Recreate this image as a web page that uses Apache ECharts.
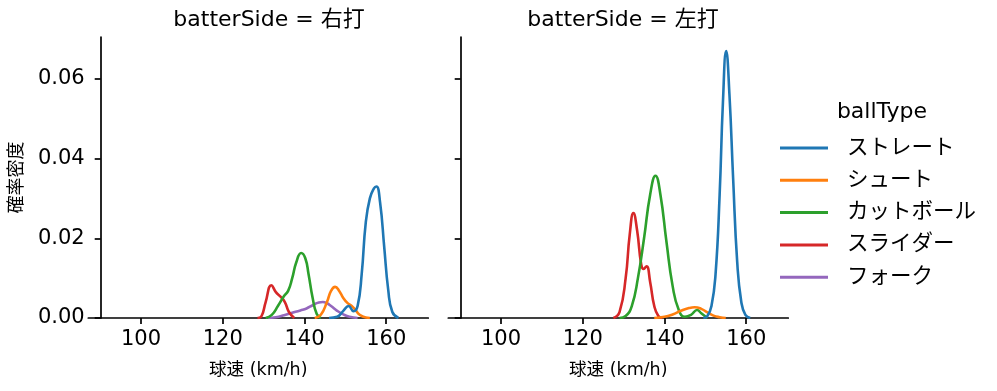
<!DOCTYPE html>
<html><head><meta charset="utf-8">
<script src="https://cdn.jsdelivr.net/npm/echarts@6/dist/echarts.min.js"></script>
<style>html,body{margin:0;padding:0;background:#fff}#c{width:997px;height:391px}</style>
</head><body><div id="c"></div>
<script>
const panels = ['batterSide = 右打', 'batterSide = 左打'];
const ballTypes = ['ストレート', 'シュート', 'カットボール', 'スライダー', 'フォーク'];
const colors = ['#1f77b4', '#ff7f0e', '#2ca02c', '#d62728', '#9467bd'];
const xTicks = [100, 120, 140, 160];
const yTicks = [0, 0.02, 0.04, 0.06];

// 右打 (left panel)
const rStraight = [[146,0],[148,0.0003],[149.5,0.0018],[150.8,0.003],[152,0.0017],[153,0.003],[154,0.011],[155,0.024],[156,0.030],[157,0.0325],[157.6,0.033],[158.5,0.029],[159.5,0.018],[160.5,0.007],[161.5,0.0015],[163,0]];
const rShoot = [[142.5,0],[144,0.0008],[145.5,0.004],[146.5,0.0068],[147.5,0.0078],[148.5,0.0068],[149.5,0.005],[150.5,0.0038],[151.5,0.0031],[152.5,0.002],[153.5,0.0008],[155,0.0001],[156,0]];
const rCutter = [[130.5,0],[132,0.0008],[133.5,0.003],[135,0.0055],[136,0.0068],[137,0.01],[138,0.014],[139.2,0.0163],[140.2,0.015],[141,0.011],[142,0.005],[143,0.001],[144,0]];
const rSlider = [[128.5,0],[129.5,0.0005],[130.5,0.004],[131.9,0.0082],[133,0.0065],[134.2,0.0053],[135.2,0.004],[136.2,0.0015],[137.5,0]];
const rFork = [[131,0],[133,0.0002],[135,0.0007],[137,0.0013],[139,0.0019],[140.5,0.0024],[142,0.0032],[143.5,0.0039],[144.5,0.004],[145.5,0.0037],[146.5,0.003],[148,0.0018],[149.5,0.0009],[151,0.0003],[153,0]];

// 左打 (right panel)
const lStraight = [[149.5,0],[150.5,0.0005],[151.5,0.003],[152.5,0.011],[153.5,0.031],[154.3,0.054],[155.1,0.067],[155.9,0.056],[156.8,0.035],[157.8,0.014],[158.8,0.004],[159.8,0.0008],[161,0]];
const lShoot = [[137.5,0],[140,0.0003],[142,0.0009],[144,0.0018],[146,0.0025],[147.4,0.0027],[149,0.0023],[150.5,0.0014],[152,0.0006],[153.5,0.0002],[155,0]];
const lCutter = [[129,0],[130.5,0.0005],[132,0.003],[133.5,0.01],[135,0.02],[136.5,0.031],[137.8,0.0357],[139,0.031],[140.5,0.019],[142,0.008],[143.5,0.002],[145,0.0003],[146.5,0.0008],[148,0.002],[149,0.0012],[150.5,0]];
const lSlider = [[127.5,0],[129,0.0015],[130.5,0.01],[131.5,0.021],[132.4,0.0263],[133.3,0.022],[134.3,0.0135],[134.9,0.0123],[135.6,0.013],[136.5,0.009],[137.5,0.003],[138.5,0.0005],[139.5,0]];

const panelData = [
  [rStraight, rShoot, rCutter, rSlider, rFork],
  [lStraight, lShoot, lCutter, lSlider, null]
];

const FONT = '"DejaVu Sans", "Noto Sans CJK JP", sans-serif';
const grids = [
  {left: 88.3, top: 37, width: 340, height: 281},
  {left: 448.3, top: 37, width: 340, height: 281}
];
const axisLineStyle = {color: '#000', width: 1.7};

const xAxis = grids.map((g, i) => ({
  type: 'value', gridIndex: i, min: 87.1, max: 170.3,
  name: '球速 (km/h)', nameLocation: 'middle', nameGap: 44,
  nameTextStyle: {fontFamily: FONT, fontSize: 17.5, color: '#000'},
  axisLine: {show: true, lineStyle: axisLineStyle},
  axisTick: {show: true, length: 6, lineStyle: axisLineStyle, customValues: xTicks},
  axisLabel: {fontFamily: FONT, fontSize: 21, color: '#000', margin: 11, customValues: xTicks},
  splitLine: {show: false}
}));
const yAxis = grids.map((g, i) => ({
  type: 'value', gridIndex: i, min: 0, max: 0.0705, offset: -12.4,
  name: i === 0 ? '確率密度' : '', nameLocation: 'middle', nameGap: 74,
  nameTextStyle: {fontFamily: FONT, fontSize: 18, color: '#000'},
  axisLine: {show: true, lineStyle: axisLineStyle},
  axisTick: {show: true, length: 6, lineStyle: axisLineStyle, customValues: yTicks},
  axisLabel: {show: i === 0, fontFamily: FONT, fontSize: 21, color: '#000', margin: 16,
    customValues: yTicks, formatter: v => v.toFixed(2)},
  splitLine: {show: false}
}));

const series = [];
panelData.forEach((arrs, p) => {
  arrs.forEach((d, k) => {
    if (!d) return;
    series.push({
      type: 'line', name: ballTypes[k], xAxisIndex: p, yAxisIndex: p,
      data: d, smooth: 0.5, showSymbol: false, symbol: 'none',
      lineStyle: {color: colors[k], width: 2.6}, itemStyle: {color: colors[k]},
      z: 10 - k, animation: false
    });
  });
});

const chart = echarts.init(document.getElementById('c'));
chart.setOption({
  animation: false,
  backgroundColor: '#fff',
  title: [
    {text: panels[0], left: 264, top: 4, textAlign: 'center', textStyle: {fontFamily: FONT, fontSize: 22, fontWeight: 'normal', color: '#000'}},
    {text: panels[1], left: 618, top: 4, textAlign: 'center', textStyle: {fontFamily: FONT, fontSize: 22, fontWeight: 'normal', color: '#000'}},
    {text: 'ballType', left: 877, top: 96, textAlign: 'center', textStyle: {fontFamily: FONT, fontSize: 22, fontWeight: 'normal', color: '#000'}}
  ],
  legend: {
    orient: 'vertical', left: 775, top: 132,
    data: ballTypes, icon: 'rect', itemWidth: 48, itemHeight: 3, itemGap: 10.3,
    textStyle: {fontFamily: FONT, fontSize: 21.5, color: '#000', lineHeight: 22, padding: [0, 0, 0, 14]},
    selectedMode: false
  },
  grid: grids,
  xAxis: xAxis,
  yAxis: yAxis,
  series: series
});
</script></body></html>
